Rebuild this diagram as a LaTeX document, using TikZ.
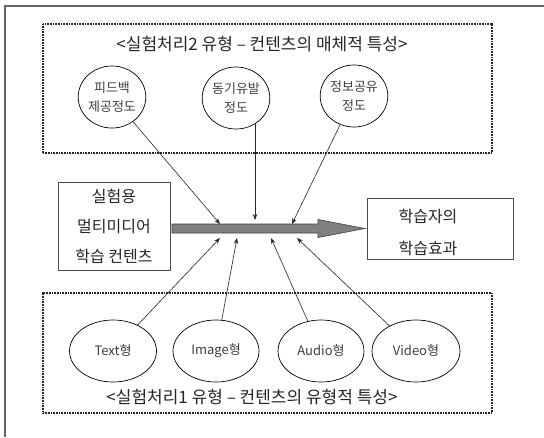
\documentclass[tikz,border=0pt]{standalone}
\usepackage{fontspec}
\setmainfont{Noto Sans CJK KR}
\usetikzlibrary{arrows.meta,shapes.geometric}
\tikzset{
  frameline/.style={draw=black!60, line width=1.2pt},
  dotbox/.style={draw=black!85, line width=1.3pt, dash pattern=on 1pt off 0.6pt},
  elli/.style={draw=black, line width=0.7pt, ellipse, inner sep=0pt, font=\fontsize{13}{19}\selectfont, text=black!75, align=center},
  smallelli/.style={elli, font=\fontsize{13}{19}\selectfont},
  titletext/.style={font=\fontsize{17}{19}\selectfont, text=black!85},
  boxtext/.style={draw=black!70, line width=0.6pt, font=\fontsize{16}{30}\selectfont, text=black!85, align=center, inner sep=0pt},
  plaintext/.style={font=\fontsize{16}{32}\selectfont, text=black!85, align=center, inner sep=0pt},
  conn/.style={draw=black!85, line width=0.6pt, -{Stealth[length=6pt,width=4.5pt]}},
}
\begin{document}
\begin{tikzpicture}[x=1pt,y=-1pt]
\useasboundingbox (0,0) rectangle (544,437);
\fill[white] (0,0) rectangle (544,437);
% outer frame
\coordinate (fb) at (5,437);
\coordinate (ftl) at (5,6);
\coordinate (ftr) at (544,6);
\draw[frameline] (fb) -- (ftl) -- (ftr);
% dotted boxes
\node[dotbox, minimum width=449pt, minimum height=129pt, inner sep=0pt] (topbox) at (267.5,88.5) {};
\node[dotbox, minimum width=449pt, minimum height=120pt, inner sep=0pt] (botbox) at (267.5,353) {};
% titles
\node[titletext] (ttop) at (262,44) {<실험처리2 유형 – 컨텐츠의 매체적 특성>};
\node[titletext] (tbot) at (252,397) {<실험처리1 유형 – 컨텐츠의 유형적 특성>};
% top ellipses
\node[smallelli, minimum width=66pt, minimum height=62pt] (e1) at (112,97) {피드백\\제공정도};
\node[smallelli, minimum width=66pt, minimum height=62pt] (e2) at (236,98) {동기유발\\정도};
\node[smallelli, minimum width=66pt, minimum height=62pt] (e3) at (354,96) {정보공유\\정도};
% bottom ellipses
\node[elli, minimum width=87pt, minimum height=62pt] (b1) at (113,351) {Text형};
\node[elli, minimum width=86pt, minimum height=62pt] (b2) at (216,351) {Image형};
\node[elli, minimum width=86pt, minimum height=62pt] (b3) at (321,351) {Audio형};
\node[elli, minimum width=88pt, minimum height=62pt] (b4) at (416,351) {Video형};
% boxes
\node[boxtext, minimum width=112pt, minimum height=88pt] (lbox) at (114,226) {실험용\\멀티미디어\\학습 컨텐츠};
\node[draw=black!70, line width=0.6pt, minimum width=146pt, minimum height=61pt, inner sep=0pt] (rbox) at (440,228.5) {};
\node[plaintext] (rtext) at (428,232) {학습자의\\학습효과};
% big arrow
\draw[fill=black!50, draw=black!75, line width=0.6pt] (172,224) -- (318,224) -- (318,219.5) -- (365,228.5) -- (318,237.5) -- (318,233) -- (172,233) -- cycle;
% targets
\coordinate (t1) at (220,224);
\coordinate (t2) at (255,220);
\coordinate (t3) at (292,224);
\coordinate (u1) at (220,238);
\coordinate (u2) at (237,238);
\coordinate (u3) at (271,238);
\coordinate (u4) at (297,238);
\coordinate (s2) at (255,123);
\draw[conn] (e1) -- (t1);
\draw[conn] (s2) -- (t2);
\draw[conn] (e3) -- (t3);
\draw[conn] (b1) -- (u1);
\draw[conn] (b2) -- (u2);
\draw[conn] (b3) -- (u3);
\draw[conn] (b4) -- (u4);
\end{tikzpicture}
\end{document}
